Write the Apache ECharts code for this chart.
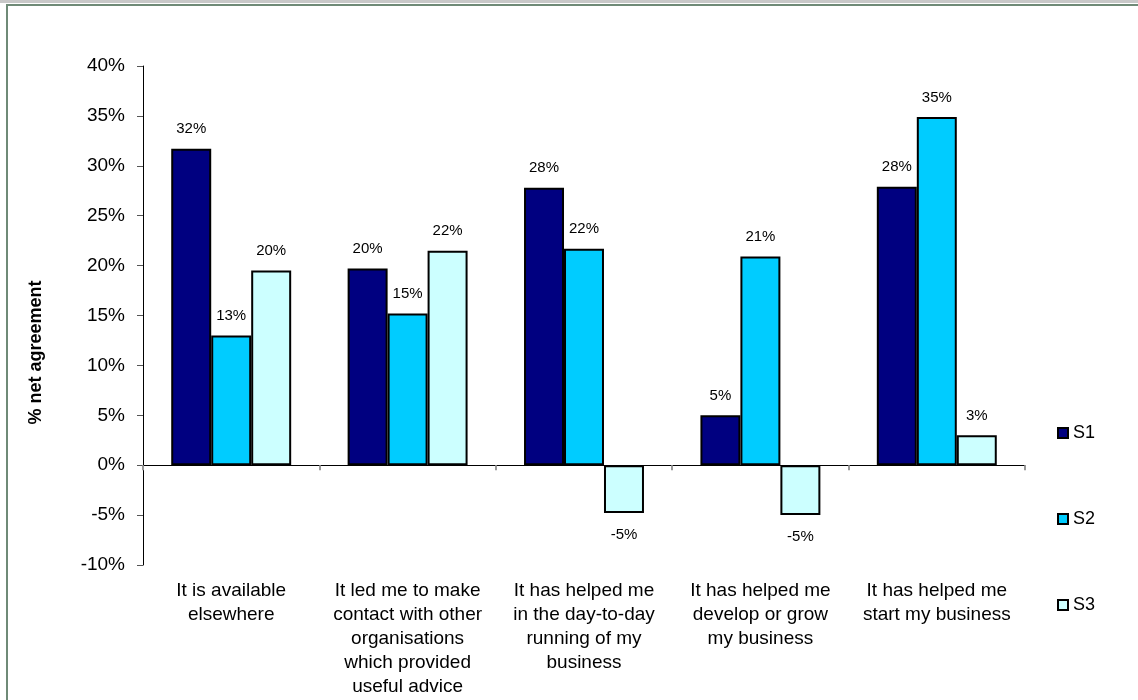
<!DOCTYPE html>
<html>
<head>
<meta charset="utf-8">
<script src="https://cdn.jsdelivr.net/npm/echarts@6/dist/echarts.min.js"></script>
<style>
html,body{margin:0;padding:0;background:#fff;}
#c{width:1138px;height:700px;}
</style>
</head>
<body>
<div id="c"></div>
<script>
const categories = [
  'It is available\nelsewhere',
  'It led me to make\ncontact with other\norganisations\nwhich provided\nuseful advice',
  'It has helped me\nin the day-to-day\nrunning of my\nbusiness',
  'It has helped me\ndevelop or grow\nmy business',
  'It has helped me\nstart my business'
];
const seriesNames = ['S1', 'S2', 'S3'];
const s1 = [31.7, 19.7, 27.8, 5.0, 27.9];
const s2 = [13.0, 15.2, 21.7, 20.9, 34.9];
const s3 = [19.5, 21.5, -4.8, -5.0, 3.0];
const yTicks = { min: -10, max: 40, interval: 5 };
const colors = ['#000080', '#00CCFF', '#CCFFFF'];

const FONT = '"Liberation Sans", Arial, sans-serif';
const frameColor = '#6f8a77';

function mkData(vals) {
  return vals.map(v => v < 0
    ? { value: v, label: { position: 'bottom', distance: 14 } }
    : { value: v });
}

const chart = echarts.init(document.getElementById('c'), null, { renderer: 'canvas' });
chart.setOption({
  animation: false,
  backgroundColor: '#ffffff',
  grid: { left: 143, right: 113, top: 66, bottom: 135, containLabel: false, outerBoundsMode: 'none' },
  legend: {
    orient: 'vertical',
    left: 1057,
    top: 423,
    padding: 0,
    itemWidth: 10,
    itemHeight: 10,
    itemGap: 66,
    icon: 'rect',
    textStyle: { fontFamily: FONT, fontSize: 18, color: '#000', lineHeight: 20 },
    data: seriesNames
  },
  xAxis: {
    type: 'category',
    data: categories,
    axisLine: { onZero: true, lineStyle: { color: '#000', width: 1 } },
    axisTick: { show: true, length: 5, lineStyle: { color: '#999', width: 2 } },
    axisLabel: {
      interval: 0,
      margin: 14,
      fontFamily: FONT,
      fontSize: 19,
      lineHeight: 24,
      color: '#000',
      align: 'center'
    },
    splitLine: { show: false }
  },
  yAxis: {
    type: 'value',
    min: yTicks.min,
    max: yTicks.max,
    interval: yTicks.interval,
    name: '% net agreement',
    nameLocation: 'middle',
    nameGap: 98,
    nameRotate: 90,
    nameTextStyle: { fontFamily: FONT, fontSize: 18, fontWeight: 'bold', color: '#000', padding: [0, 74, 0, 0] },
    axisLine: { show: true, lineStyle: { color: '#000', width: 1 } },
    axisTick: { show: true, length: 6, lineStyle: { color: '#555', width: 1 } },
    axisLabel: { formatter: '{value}%', margin: 18, fontFamily: FONT, fontSize: 19, color: '#000' },
    splitLine: { show: false }
  },
  series: [s1, s2, s3].map((vals, i) => ({
    name: seriesNames[i],
    type: 'bar',
    data: mkData(vals),
    barGap: '0%',
    barCategoryGap: '32%',
    itemStyle: { color: colors[i], borderColor: '#000', borderWidth: 2 },
    label: {
      show: true,
      position: 'top',
      distance: 12,
      fontFamily: FONT,
      fontSize: 15,
      color: '#000',
      formatter: p => Math.round(p.value) + '%'
    }
  })),
  graphic: [
    { type: 'rect', shape: { x: 0, y: 0, width: 1138, height: 3 }, style: { fill: '#c8c8c8' }, silent: true },
    { type: 'rect', shape: { x: 6, y: 4, width: 1132, height: 2 }, style: { fill: frameColor }, silent: true },
    { type: 'rect', shape: { x: 6, y: 4, width: 2, height: 696 }, style: { fill: frameColor }, silent: true }
  ]
});
</script>
</body>
</html>
